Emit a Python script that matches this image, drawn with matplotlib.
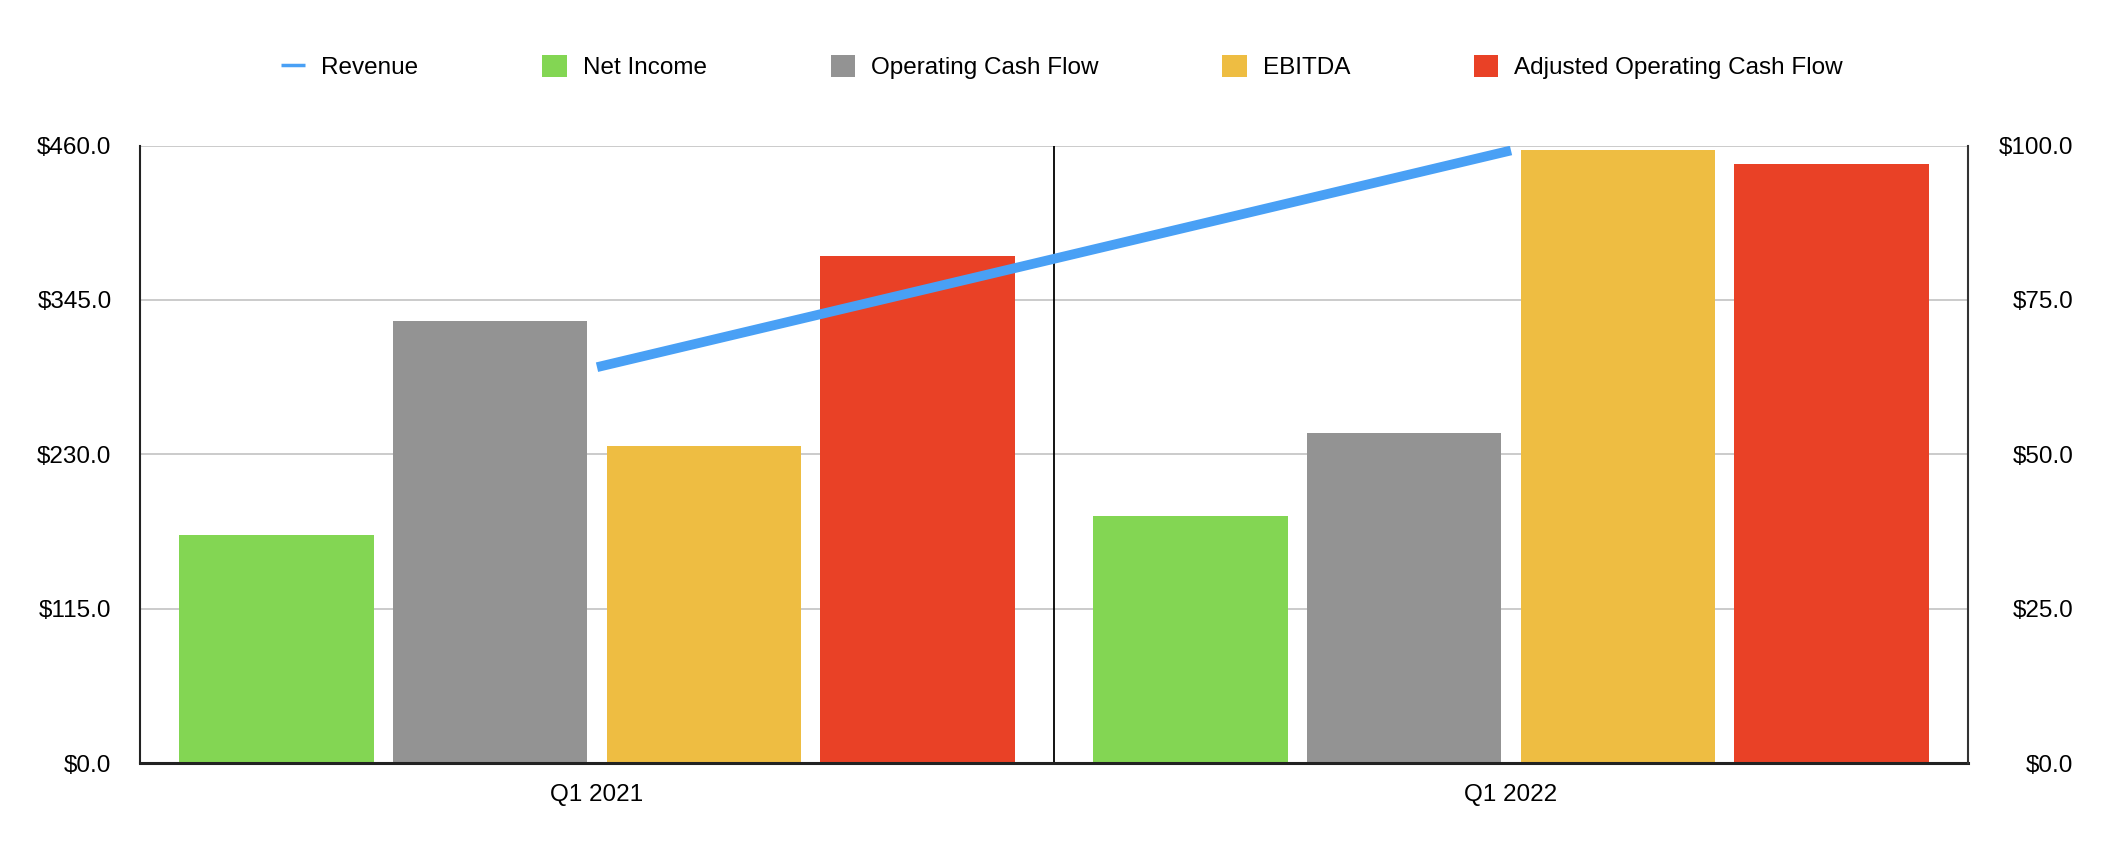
import matplotlib
matplotlib.use('Agg')
import matplotlib.pyplot as plt
from matplotlib.lines import Line2D
from matplotlib.patches import Patch
from matplotlib.ticker import FuncFormatter

plt.rcParams['font.family'] = ['Liberation Sans', 'DejaVu Sans']

# data
quarters = ['Q1 2021', 'Q1 2022']
revenue = [64.1, 99.2]
net_income = [170.0, 184.0]
operating_cash_flow = [329.3, 245.8]
ebitda = [236.1, 456.6]
adj_operating_cash_flow = [377.7, 446.2]

bar_series = [
    ('Net Income', net_income, '#83D653'),
    ('Operating Cash Flow', operating_cash_flow, '#939393'),
    ('EBITDA', ebitda, '#EEBD42'),
    ('Adjusted Operating Cash Flow', adj_operating_cash_flow, '#E94126'),
]
line_color = '#49A0F5'

fig = plt.figure(figsize=(21.24, 8.58), dpi=100)
ax = fig.add_axes([140 / 2124, 1 - 763 / 858, (1968 - 140) / 2124, (763 - 145.5) / 858])

x = list(range(len(quarters)))
pitch = 0.234
width = 0.213
for i, (name, vals, col) in enumerate(bar_series):
    pos = [xx + (i - 1.5) * pitch for xx in x]
    ax.bar(pos, vals, width=width, color=col, zorder=2)

ax.set_xlim(-0.5, 1.5)
ax.set_ylim(0, 460)
ax.set_yticks([0, 115, 230, 345, 460])
ax.yaxis.set_major_formatter(FuncFormatter(lambda v, p: f'${v:.1f}'))
ax.set_xticks(x)
ax.set_xticklabels(quarters)
ax.yaxis.grid(True, color='#bdbdbd', linewidth=1.1, zorder=0)
ax.set_axisbelow(True)
ax.axvline(0.5, color='black', linewidth=1.3, zorder=1)
ax.tick_params(axis='y', length=0, pad=20.5, labelsize=17.5)
ax.tick_params(axis='x', length=0, pad=15, labelsize=17.5)
ax.spines['top'].set_visible(False)
ax.spines['right'].set_visible(False)
ax.spines['left'].set_linewidth(1.5)
ax.spines['left'].set_color('#222222')
ax.spines['bottom'].set_linewidth(2.2)
ax.spines['bottom'].set_color('#222222')

ax2 = ax.twinx()
ax2.plot(x, revenue, color=line_color, linewidth=7, solid_capstyle='butt', zorder=3)
ax2.set_ylim(0, 100)
ax2.set_yticks([0, 25, 50, 75, 100])
ax2.yaxis.set_major_formatter(FuncFormatter(lambda v, p: f'${v:.1f}'))
ax2.tick_params(axis='y', length=0, pad=76, labelsize=17.5)
for lab in ax2.get_yticklabels():
    lab.set_horizontalalignment('right')
for s in ['top', 'left', 'bottom']:
    ax2.spines[s].set_visible(False)
ax2.spines['right'].set_linewidth(1.5)
ax2.spines['right'].set_color('#333333')

handles = [Line2D([0], [0], color=line_color, linewidth=2.5, solid_capstyle='butt')]
labels = ['Revenue']
for name, vals, col in bar_series:
    handles.append(Patch(facecolor=col))
    labels.append(name)
fig.legend(handles, labels, loc='center', bbox_to_anchor=(0.5, 1 - 67 / 858), ncol=5,
           frameon=False, fontsize=17.5, handlelength=1.0, handleheight=1.0,
           handletextpad=0.66, columnspacing=5.1)

fig.savefig('out.png', dpi=100)
